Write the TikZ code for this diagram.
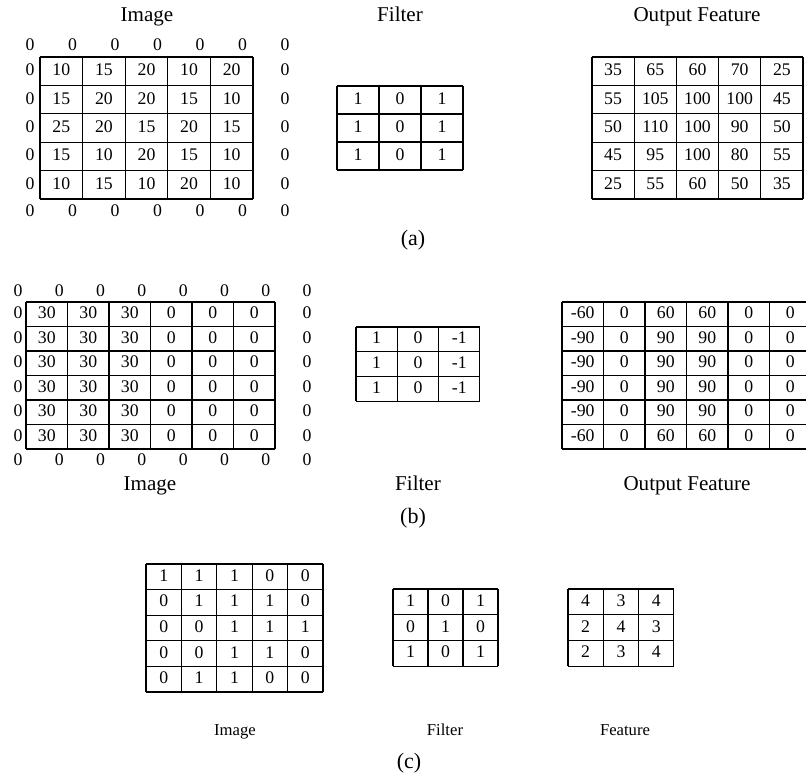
\documentclass[tikz,border=0pt]{standalone}
\usepackage{fontspec}
\setmainfont{Liberation Serif}

%Tabelle: Name, x0, y0, Breite, Hoehe, Spalten, Zeilen, Werte
\newcommand{\zellen}[8]{%
    \foreach[count=\i] \zeile in {#8} {
        \foreach[count=\j] \wert in \zeile {
            \node[zahl] (#1-\i-\j) at ({#2+(\j-0.5)*#4},{#3+(\i-0.5)*#5}) {\wert};
        }
    }
    \foreach \j in {0,...,#6} {
        \draw[gitter] ({#2+\j*#4},#3) -- ({#2+\j*#4},{#3+#7*#5});
    }
    \foreach \i in {0,...,#7} {
        \draw[gitter] (#2,{#3+\i*#5}) -- ({#2+#6*#4},{#3+\i*#5});
    }
}

\begin{document}
\begin{tikzpicture}[x=0.75pt, y=-0.75pt,
    zahl/.style={inner sep=0pt, text height=0.68em, text depth=0pt, font=\fontsize{13.3}{15}\selectfont},
    gitter/.style={line width=0.8pt, black},
    titel/.style={inner sep=0pt, text height=0.7em, text depth=0.22em, font=\fontsize{15.8}{18}\selectfont},
    titelc/.style={inner sep=0pt, text height=0.7em, text depth=0.22em, font=\fontsize{12.5}{14}\selectfont},
    teil/.style={inner sep=0pt, font=\fontsize{16.5}{19}\selectfont}]
    \clip (0,0) rectangle (806,772);

    %(a) Bild mit Rand
    \node[titel] (a-titel-bild) at (147,18) {Image};
    \zellen{a-bild}{40}{57}{42.6}{28.4}{5}{5}{{10,15,20,10,20},{15,20,20,15,10},{25,20,15,20,15},{15,10,20,15,10},{10,15,10,20,10}}
    \foreach \k in {0,...,6} {
        \node[zahl] (a-oben-\k) at ({30+42.5*\k},46) {0};
        \node[zahl] (a-unten-\k) at ({30+42.5*\k},212) {0};
    }
    \foreach \k in {0,...,4} {
        \node[zahl] (a-links-\k) at (30,{71.2+28.4*\k}) {0};
        \node[zahl] (a-rechts-\k) at (285,{71.2+28.4*\k}) {0};
    }
    %(a) Filter
    \node[titel] (a-titel-filter) at (400,18) {Filter};
    \zellen{a-filter}{337}{86}{42}{28}{3}{3}{{1,0,1},{1,0,1},{1,0,1}}
    %(a) Ausgabe
    \node[titel] (a-titel-aus) at (697,18) {Output Feature};
    \zellen{a-aus}{592}{57}{42.2}{28.4}{5}{5}{{35,65,60,70,25},{55,105,100,100,45},{50,110,100,90,50},{45,95,100,80,55},{25,55,60,50,35}}
    \node[teil] (a-label) at (413,240) {(a)};

    %(b) Bild mit Rand
    \zellen{b-bild}{26}{302}{41.5}{24.5}{6}{6}{{30,30,30,0,0,0},{30,30,30,0,0,0},{30,30,30,0,0,0},{30,30,30,0,0,0},{30,30,30,0,0,0},{30,30,30,0,0,0}}
    \foreach \k in {0,...,7} {
        \node[zahl] (b-oben-\k) at ({18+41.3*\k},292) {0};
        \node[zahl] (b-unten-\k) at ({18+41.3*\k},461) {0};
    }
    \foreach \k in {0,...,5} {
        \node[zahl] (b-links-\k) at (18,{314.3+24.5*\k}) {0};
        \node[zahl] (b-rechts-\k) at (307,{314.3+24.5*\k}) {0};
    }
    \node[titel] (b-titel-bild) at (150,487) {Image};
    %(b) Filter
    \zellen{b-filter}{356}{327}{41.3}{24.7}{3}{3}{{1,0,-1},{1,0,-1},{1,0,-1}}
    \node[titel] (b-titel-filter) at (418,487) {Filter};
    %(b) Ausgabe
    \zellen{b-aus}{562}{302}{41.5}{24.5}{6}{6}{{-60,0,60,60,0,0},{-90,0,90,90,0,0},{-90,0,90,90,0,0},{-90,0,90,90,0,0},{-90,0,90,90,0,0},{-60,0,60,60,0,0}}
    \node[titel] (b-titel-aus) at (687,487) {Output Feature};
    \node[teil] (b-label) at (413,518) {(b)};

    %(c)
    \zellen{c-bild}{146}{564}{35.4}{25.6}{5}{5}{{1,1,1,0,0},{0,1,1,1,0},{0,0,1,1,1},{0,0,1,1,0},{0,1,1,0,0}}
    \zellen{c-filter}{393}{589}{35}{25.7}{3}{3}{{1,0,1},{0,1,0},{1,0,1}}
    \zellen{c-merkmal}{568}{589}{35.3}{25.7}{3}{3}{{4,3,4},{2,4,3},{2,3,4}}
    \node[titelc] (c-titel-bild) at (235,732) {Image};
    \node[titelc] (c-titel-filter) at (445,732) {Filter};
    \node[titelc] (c-titel-merkmal) at (625,732) {Feature};
    \node[teil] (c-label) at (409,763) {(c)};
\end{tikzpicture}
\end{document}
